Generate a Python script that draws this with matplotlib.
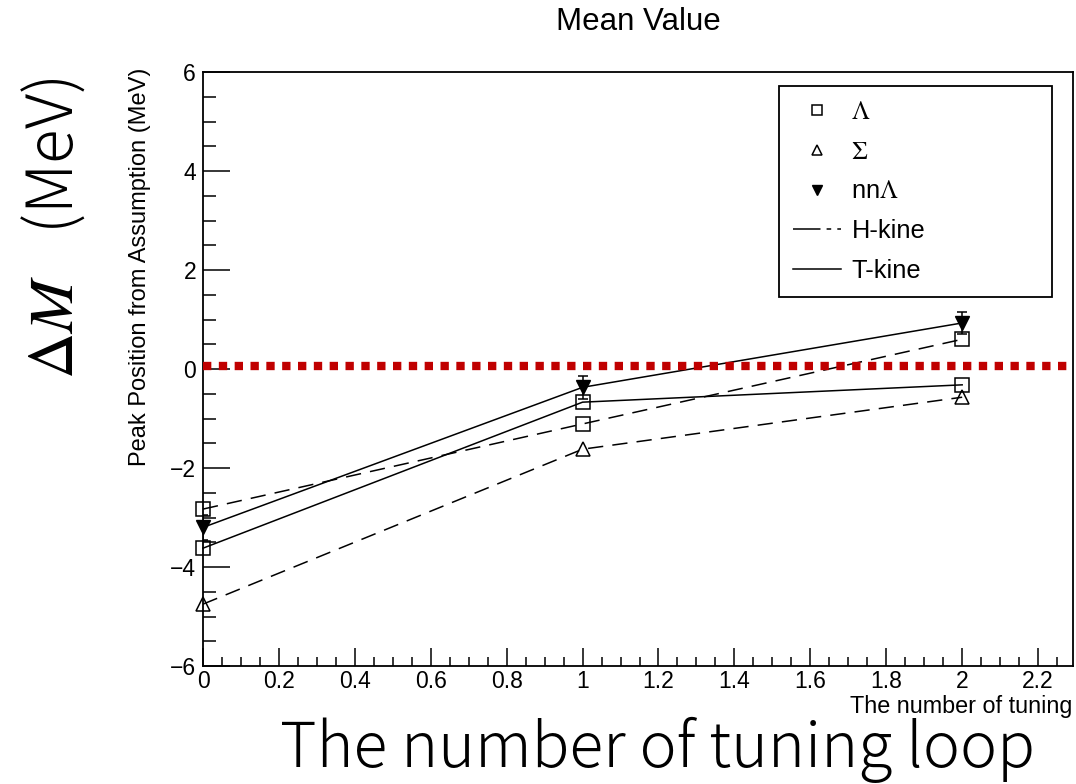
import matplotlib
matplotlib.use("Agg")
import matplotlib.pyplot as plt
from matplotlib.lines import Line2D
from matplotlib.ticker import MultipleLocator

plt.rcParams['font.family'] = ['Liberation Sans', 'DejaVu Sans']
plt.rcParams['mathtext.fontset'] = 'stix'

## data
tuning = [0, 1, 2]
lam_h = [-2.83, -1.11, 0.60]     # Lambda, H-kine
sig_h = [-4.75, -1.62, -0.57]    # Sigma, H-kine
lam_t = [-3.62, -0.67, -0.32]    # Lambda, T-kine
nnl_t = [-3.20, -0.37, 0.93]     # nnLambda, T-kine
nnl_err = [0.25, 0.23, 0.23]
ref_level = 0.07

fig = plt.figure(figsize=(10.76, 7.84), dpi=100)
ax = fig.add_axes([203/1076, 118/784, 870/1076, 594/784])

## dashed = H-kine, solid = T-kine
dash = (0, (10, 6))
ax.plot(tuning, lam_h, color='black', lw=1.1, ls=dash, marker='s', ms=10,
        mfc='none', mec='black', mew=1.1, zorder=3, clip_on=False)
ax.plot(tuning, sig_h, color='black', lw=1.1, ls=dash, marker='^', ms=10.5,
        mfc='none', mec='black', mew=1.1, zorder=3, clip_on=False)
ax.plot(tuning, lam_t, color='black', lw=1.1, ls='-', marker='s', ms=10,
        mfc='none', mec='black', mew=1.1, zorder=3, clip_on=False)
eb = ax.errorbar(tuning, nnl_t, yerr=nnl_err, color='black', lw=1.1, ls='-',
                 marker='v', ms=10, mfc='black', mec='black', elinewidth=1.1,
                 capsize=3.5, capthick=1.1, zorder=4)
eb[0].set_clip_on(False)

## reference line
ax.axhline(ref_level, color='#c00000', lw=6, ls=(0, (1, 0.9)),
           dash_capstyle='butt', zorder=5)

ax.set_xlim(0, 2.292)
ax.set_ylim(-6, 6)
ax.xaxis.set_major_locator(MultipleLocator(0.2))
ax.xaxis.set_minor_locator(MultipleLocator(0.05))
ax.yaxis.set_major_locator(MultipleLocator(2))
ax.yaxis.set_minor_locator(MultipleLocator(0.5))
ax.xaxis.set_major_formatter(plt.FuncFormatter(lambda v, p: '%g' % round(v, 2)))
ax.yaxis.set_major_formatter(plt.FuncFormatter(lambda v, p: ('%g' % v).replace('-', '\u2212')))

ax.tick_params(axis='x', which='major', direction='in', length=13, width=1.1,
               labelsize=16.5, pad=3, top=False)
ax.tick_params(axis='x', which='minor', direction='in', length=6.5, width=1.1, top=False)
ax.tick_params(axis='y', which='major', direction='in', length=19.5, width=1.1,
               labelsize=16.5, pad=5, right=False)
ax.tick_params(axis='y', which='minor', direction='in', length=9.7, width=1.1, right=False)
for s in ax.spines.values():
    s.set_linewidth(1.3)

## legend
handles = [
    Line2D([], [], ls='none', marker='s', ms=7.5, mfc='none', mec='black', mew=1.1),
    Line2D([], [], ls='none', marker='^', ms=7.5, mfc='none', mec='black', mew=1.1),
    Line2D([], [], ls='none', marker='v', ms=7.5, mfc='black', mec='black'),
    Line2D([], [], color='black', lw=1.1, ls=(0, (18, 4, 3, 4))),
    Line2D([], [], color='black', lw=1.1, ls='-'),
]
labels = [r'$\Lambda$', r'$\Sigma$', r'nn$\Lambda$', 'H-kine', 'T-kine']
leg_x0 = (779-203)/870
leg_y1 = (666-86)/594
leg_w = (1052-779)/870
leg = ax.legend(handles, labels, loc='upper left',
                bbox_to_anchor=(leg_x0, leg_y1 - 0.3, leg_w, 0.3), mode='expand',
                fontsize=18.3, frameon=True, fancybox=False, edgecolor='black',
                framealpha=1, handlelength=1.9, handletextpad=0.4,
                labelspacing=0.62, borderpad=0.55, borderaxespad=0)
leg.get_frame().set_linewidth(1.3)

fig.text(638/1076, 1 - 22/784, 'Mean Value', ha='center', va='center', fontsize=22.5)
fig.text(140/1076, 1 - 68/784, 'Peak Position from Assumption (MeV)', rotation=90,
         ha='center', va='top', fontsize=17)
fig.text(1072/1076, 1 - 706/784, 'The number of tuning', ha='right', va='center',
         fontsize=16.8)

## overlaid large labels
fig.text(657/1076, 1 - 767/784, 'The number of tuning loop', ha='center', va='baseline',
         fontsize=45, family=['Noto Sans CJK JP', 'DejaVu Sans'], fontweight='light')
fig.text(54/1076, 1 - 228/784, r'$\Delta M$' + '\u2002 (MeV)', rotation=90, ha='center',
         va='center', fontsize=46, family=['Noto Sans CJK JP', 'DejaVu Sans'],
         fontweight='light')

fig.savefig('out.png', dpi=100)
